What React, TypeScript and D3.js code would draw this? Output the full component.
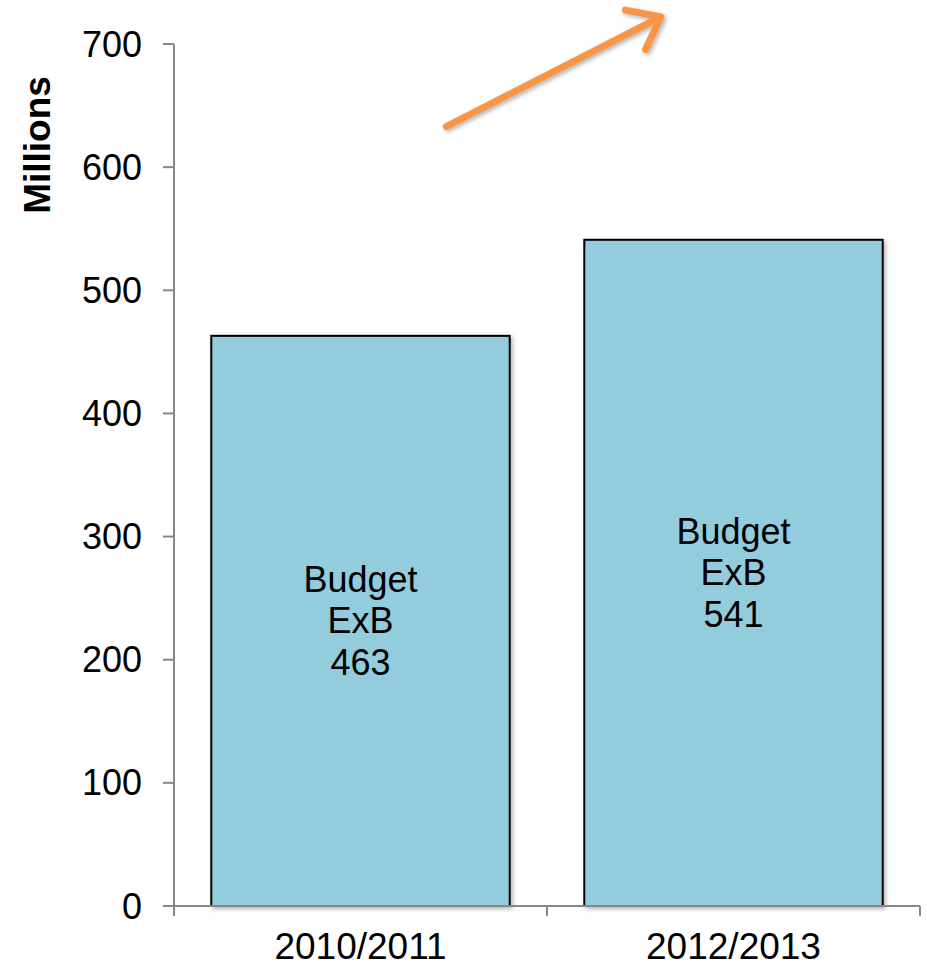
import React from "react";
import * as d3 from "d3";

const categories = ["2010/2011", "2012/2013"];
const values = [463, 541];
const barLabelLines = ["Budget", "ExB"];
const yTicks = [0, 100, 200, 300, 400, 500, 600, 700];
const yLabel = "Millions";
// arrow annotation in data space: [category index position, value]
const arrowStart: [number, number] = [0.73, 633];
const arrowEnd: [number, number] = [1.305, 722];

const W = 927;
const H = 966;
const margin = { left: 174, right: 7, top: 44, bottom: 60 };
const FONT = "'Liberation Sans', Arial, sans-serif";

export default function App() {
  const x = d3
    .scaleBand<string>()
    .domain(categories)
    .range([margin.left, W - margin.right])
    .paddingInner(0.2)
    .paddingOuter(0.1);
  const xIdx = d3.scaleLinear().domain([0, categories.length]).range([margin.left, W - margin.right]);
  const y = d3.scaleLinear().domain([0, 700]).range([H - margin.bottom, margin.top]);
  const axisColor = "#878787";
  const y0 = y(0);

  const ax1 = xIdx(arrowStart[0]);
  const ay1 = y(arrowStart[1]);
  const ax2 = xIdx(arrowEnd[0]);
  const ay2 = y(arrowEnd[1]);
  const ang = Math.atan2(ay2 - ay1, ax2 - ax1);
  const headLen = 36;
  const headAng = (38 * Math.PI) / 180;
  const h1 = [ax2 - headLen * Math.cos(ang - headAng), ay2 - headLen * Math.sin(ang - headAng)];
  const h2 = [ax2 - headLen * Math.cos(ang + headAng), ay2 - headLen * Math.sin(ang + headAng)];
  const arrowPath = `M${ax1},${ay1}L${ax2},${ay2}M${h1[0]},${h1[1]}L${ax2},${ay2}L${h2[0]},${h2[1]}`;

  return (
    <svg
      width={W}
      height={H}
      style={{ position: "absolute", left: 0, top: 0, background: "#fff" }}
      fontFamily={FONT}
    >
      <defs>
        <filter id="shadow" x="-10%" y="-10%" width="130%" height="130%">
          <feDropShadow dx="2" dy="2" stdDeviation="2" floodColor="#000" floodOpacity="0.3" />
        </filter>
      </defs>
      {/* bars */}
      {categories.map((c, i) => {
        const bx = x(c)!;
        const bw = x.bandwidth();
        const top = y(values[i]);
        const cx = bx + bw / 2;
        const cy = (top + y0) / 2;
        const lines = [...barLabelLines, String(values[i])];
        const lh = 41.5;
        return (
          <g key={c}>
            <rect
              x={bx}
              y={top}
              width={bw}
              height={y0 - top}
              fill="#93CDDD"
              stroke="#000"
              strokeWidth={2}
              filter="url(#shadow)"
            />
            {lines.map((t, j) => (
              <text
                key={j}
                x={cx}
                y={cy + (j - 1) * lh}
                textAnchor="middle"
                dominantBaseline="central"
                fontSize={36}
                fill="#000"
              >
                {t}
              </text>
            ))}
          </g>
        );
      })}
      {/* y axis */}
      <line x1={margin.left} x2={margin.left} y1={y(700)} y2={y0} stroke={axisColor} strokeWidth={2} />
      {yTicks.map((t) => (
        <g key={t}>
          <line x1={margin.left - 11} x2={margin.left} y1={y(t)} y2={y(t)} stroke={axisColor} strokeWidth={2} />
          <text
            x={margin.left - 32}
            y={y(t)}
            textAnchor="end"
            dominantBaseline="central"
            fontSize={36}
            fill="#000"
          >
            {t}
          </text>
        </g>
      ))}
      {/* x axis */}
      <line x1={margin.left} x2={W - margin.right} y1={y0} y2={y0} stroke={axisColor} strokeWidth={2} />
      {d3.range(categories.length + 1).map((i) => (
        <line key={i} x1={xIdx(i)} x2={xIdx(i)} y1={y0} y2={y0 + 10} stroke={axisColor} strokeWidth={2} />
      ))}
      {categories.map((c) => (
        <text
          key={c}
          x={x(c)! + x.bandwidth() / 2}
          y={y0 + 40}
          textAnchor="middle"
          dominantBaseline="central"
          fontSize={37}
          fill="#000"
        >
          {c}
        </text>
      ))}
      {/* y label */}
      <text
        transform={`translate(37,${(y(700) + y0) / 2 - 330}) rotate(-90)`}
        textAnchor="middle"
        dominantBaseline="central"
        fontSize={37}
        fontWeight="bold"
        fill="#000"
      >
        {yLabel}
      </text>
      {/* arrow */}
      <path
        d={arrowPath}
        fill="none"
        stroke="#F79646"
        strokeWidth={7}
        strokeLinecap="round"
        strokeLinejoin="round"
        filter="url(#shadow)"
      />
    </svg>
  );
}
